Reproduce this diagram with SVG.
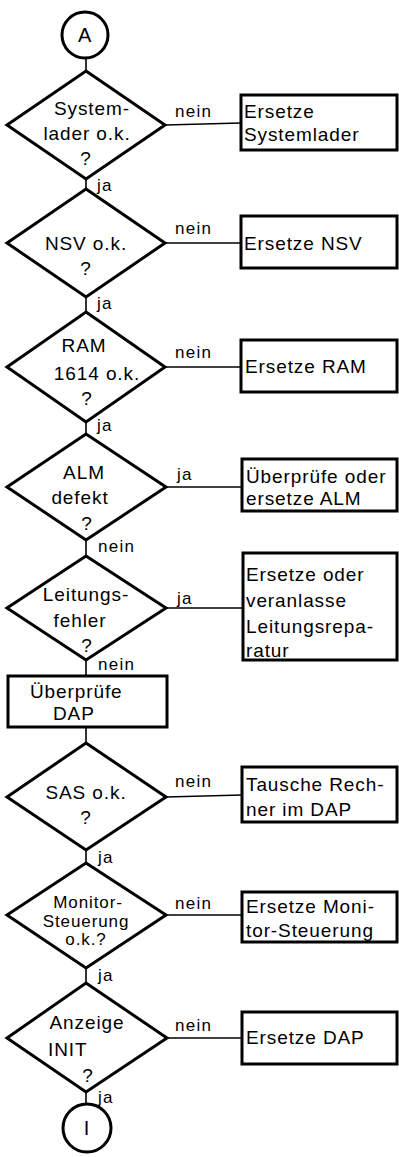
<svg xmlns="http://www.w3.org/2000/svg" width="399" height="1157" viewBox="0 0 399 1157">
<style>
.shape{fill:#fff;stroke:#000;stroke-width:3;stroke-linejoin:miter}
.conn line{stroke:#000;stroke-width:1.6}
text{font-family:"Liberation Sans","DejaVu Sans",sans-serif;font-size:19px;fill:#000;letter-spacing:0.9px}
.c{text-anchor:middle}
.lbl{font-size:17px;letter-spacing:1.3px}
</style>
<rect width="399" height="1157" fill="#fff"/>
<g id="connectors" class="conn">
<line x1="86" y1="58" x2="86" y2="71"/>
<line x1="86" y1="179" x2="86" y2="189"/>
<line x1="86" y1="297" x2="86" y2="312"/>
<line x1="86" y1="422" x2="86" y2="434"/>
<line x1="86" y1="540" x2="86" y2="556"/>
<line x1="86" y1="660" x2="86" y2="676"/>
<line x1="86" y1="727" x2="86" y2="743"/>
<line x1="86" y1="850" x2="86" y2="863"/>
<line x1="86" y1="968" x2="86" y2="983"/>
<line x1="86" y1="1092" x2="86" y2="1104"/>
<line x1="165" y1="125" x2="241" y2="123"/>
<line x1="165" y1="243" x2="241" y2="243"/>
<line x1="165" y1="367" x2="241" y2="367"/>
<line x1="166" y1="487" x2="242" y2="487"/>
<line x1="166" y1="608" x2="243" y2="608"/>
<line x1="166" y1="797" x2="242" y2="795"/>
<line x1="166" y1="915" x2="242" y2="915"/>
<line x1="167" y1="1038" x2="242" y2="1038"/>
<text class="lbl" x="97" y="191">ja</text>
<text class="lbl" x="97" y="309">ja</text>
<text class="lbl" x="97" y="431">ja</text>
<text class="lbl" x="98" y="552">nein</text>
<text class="lbl" x="98" y="670">nein</text>
<text class="lbl" x="98" y="863">ja</text>
<text class="lbl" x="98" y="981">ja</text>
<text class="lbl" x="98" y="1103">ja</text>
<text class="lbl" x="175" y="117">nein</text>
<text class="lbl" x="175" y="234">nein</text>
<text class="lbl" x="175" y="358">nein</text>
<text class="lbl" x="177" y="480">ja</text>
<text class="lbl" x="177" y="604">ja</text>
<text class="lbl" x="175" y="787">nein</text>
<text class="lbl" x="175" y="909">nein</text>
<text class="lbl" x="175" y="1031">nein</text>
</g>
<g id="start-A">
<circle class="shape" cx="85" cy="35" r="23"/>
<text class="c" x="85" y="42" style="font-size:20px">A</text>
</g>
<g id="d-systemlader">
<polygon class="shape" points="86,71 165,125 86,179 7,125"/>
<text class="c" x="92" y="115">System-</text>
<text class="c" x="87" y="140">lader o.k.</text>
<text class="c" x="86" y="165">?</text>
</g>
<g id="b-systemlader">
<rect class="shape" x="241" y="95" width="156" height="55"/>
<text x="244" y="118">Ersetze</text>
<text x="244" y="141">Systemlader</text>
</g>
<g id="d-nsv">
<polygon class="shape" points="86,189 165,243 86,297 7,243"/>
<text class="c" x="86" y="250">NSV o.k.</text>
<text class="c" x="86" y="275">?</text>
</g>
<g id="b-nsv">
<rect class="shape" x="241" y="216" width="156" height="52"/>
<text x="244" y="250">Ersetze  NSV</text>
</g>
<g id="d-ram">
<polygon class="shape" points="86,312 165,367 86,422 7,367"/>
<text class="c" x="84" y="352">RAM</text>
<text class="c" x="97" y="380">1614 o.k.</text>
<text class="c" x="87" y="405">?</text>
</g>
<g id="b-ram">
<rect class="shape" x="241" y="340" width="156" height="52"/>
<text x="245" y="373">Ersetze  RAM</text>
</g>
<g id="d-alm">
<polygon class="shape" points="86,434 166,487 86,540 7,487"/>
<text class="c" x="84" y="479">ALM</text>
<text class="c" x="80" y="504">defekt</text>
<text class="c" x="87" y="530">?</text>
</g>
<g id="b-alm">
<rect class="shape" x="242" y="459" width="155" height="52"/>
<text x="246" y="483">Überprüfe oder</text>
<text x="246" y="505">ersetze ALM</text>
</g>
<g id="d-leitung">
<polygon class="shape" points="86,556 166,608 86,660 7,608"/>
<text class="c" x="86" y="601">Leitungs-</text>
<text class="c" x="80" y="627">fehler</text>
<text class="c" x="87" y="652">?</text>
</g>
<g id="b-leitung">
<rect class="shape" x="243" y="553" width="154" height="107"/>
<text x="246" y="581">Ersetze  oder</text>
<text x="246" y="607">veranlasse</text>
<text x="246" y="633">Leitungsrepa-</text>
<text x="246" y="657">ratur</text>
</g>
<g id="b-dap">
<rect class="shape" x="8" y="676" width="159" height="51"/>
<text x="30" y="698">Überprüfe</text>
<text x="53" y="720">DAP</text>
</g>
<g id="d-sas">
<polygon class="shape" points="86,743 166,797 86,850 7,797"/>
<text class="c" x="86" y="799">SAS o.k.</text>
<text class="c" x="86" y="824">?</text>
</g>
<g id="b-sas">
<rect class="shape" x="242" y="767" width="155" height="55"/>
<text x="246" y="791">Tausche Rech-</text>
<text x="246" y="816">ner im DAP</text>
</g>
<g id="d-monitor">
<polygon class="shape" points="86,863 166,915 86,968 7,915"/>
<text class="c" x="88" y="908" style="font-size:17px">Monitor-</text>
<text class="c" x="86" y="927" style="font-size:17px">Steuerung</text>
<text class="c" x="86" y="945" style="font-size:17px">o.k.?</text>
</g>
<g id="b-monitor">
<rect class="shape" x="242" y="892" width="155" height="50"/>
<text x="246" y="913">Ersetze Moni-</text>
<text x="246" y="937">tor-Steuerung</text>
</g>
<g id="d-anzeige">
<polygon class="shape" points="86,983 167,1038 86,1092 7,1038"/>
<text class="c" x="87" y="1029">Anzeige</text>
<text x="48" y="1056">INIT</text>
<text class="c" x="88" y="1082">?</text>
</g>
<g id="b-anzeige">
<rect class="shape" x="242" y="1012" width="155" height="52"/>
<text x="246" y="1044">Ersetze  DAP</text>
</g>
<g id="end-I">
<circle class="shape" cx="87" cy="1128" r="24"/>
<text class="c" x="87" y="1135" style="font-size:20px">I</text>
</g>
</svg>
